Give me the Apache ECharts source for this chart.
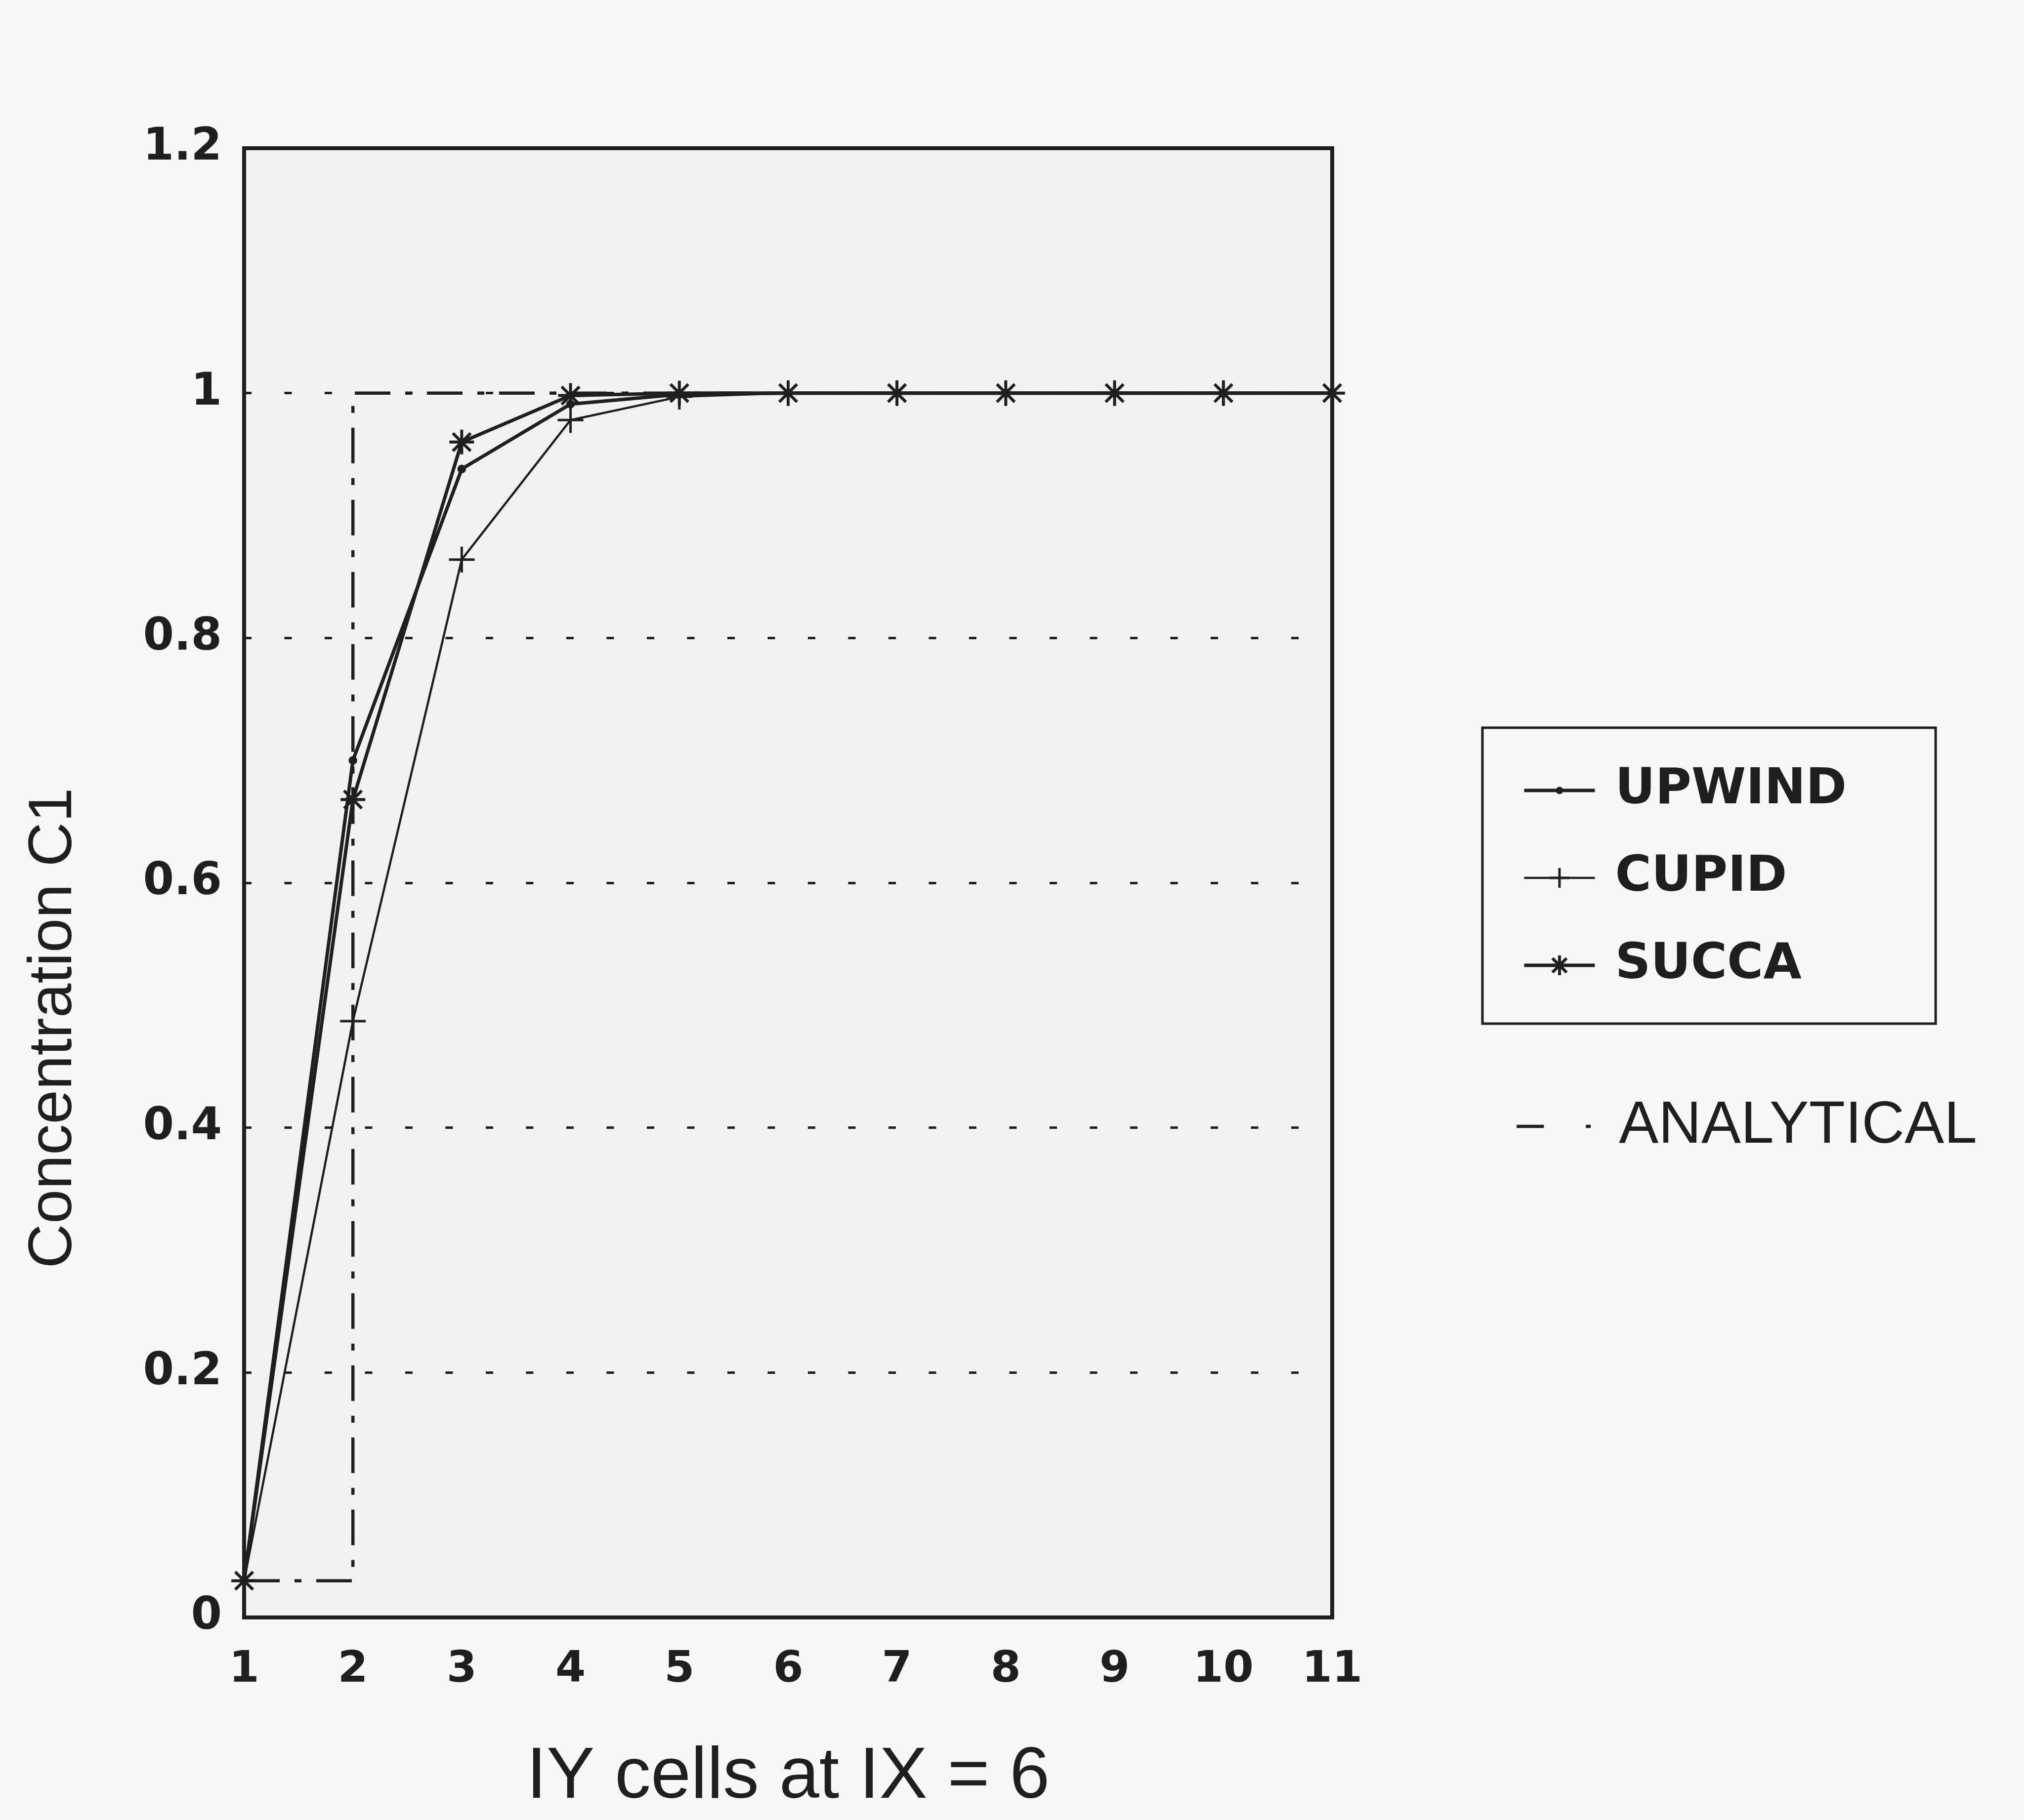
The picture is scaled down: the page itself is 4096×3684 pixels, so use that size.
<!DOCTYPE html>
<html>
<head>
<meta charset="utf-8">
<script src="https://cdn.jsdelivr.net/npm/echarts@6/dist/echarts.min.js"></script>
<style>
html,body{margin:0;padding:0;background:#f7f7f7;}
#chart{width:4096px;height:3684px;}
</style>
</head>
<body>
<div id="chart"></div>
<script>
// ---- data ----
const xCells = [1, 2, 3, 4, 5, 6, 7, 8, 9, 10, 11];
const upwind = [0.03, 0.70, 0.938, 0.991, 0.999, 1, 1, 1, 1, 1, 1];
const cupid  = [0.03, 0.487, 0.864, 0.978, 0.997, 1, 1, 1, 1, 1, 1];
const succa  = [0.03, 0.668, 0.960, 0.998, 1.0, 1, 1, 1, 1, 1, 1];
const analyticalX = [1, 2, 2, 11];
const analyticalY = [0.03, 0.03, 1, 1];
const yTicks = [0, 0.2, 0.4, 0.6, 0.8, 1, 1.2];
const yTickLabels = ['0', '0.2', '0.4', '0.6', '0.8', '1', '1.2'];
const xTickLabels = ['1', '2', '3', '4', '5', '6', '7', '8', '9', '10', '11'];
const seriesNames = ['UPWIND', 'CUPID', 'SUCCA', 'ANALYTICAL'];
const xTitle = 'IY cells at IX = 6';
const yTitle = 'Concentration C1';

// ---- styling ----
const INK = '#1f1f1f';
const STAR = 'path://M0 -10 L0 10 M-10 0 L10 0 M-7.2 -7.2 L7.2 7.2 M-7.2 7.2 L7.2 -7.2';
const PLUS = 'path://M0 -10 L0 10 M-10 0 L10 0';
const DOT = 'path://M-10 -10 M10 10 M0 -3 A3 3 0 1 1 0 3 A3 3 0 1 1 0 -3 Z';

function pairs(xs, ys) { return xs.map((x, i) => [x, ys[i]]); }
function yLabel(v) {
  let best = 0;
  yTicks.forEach((t, i) => { if (Math.abs(t - v) < Math.abs(yTicks[best] - v)) best = i; });
  return yTickLabels[best];
}
function xLabel(v) {
  const i = xCells.indexOf(Math.round(v));
  return i >= 0 ? xTickLabels[i] : '';
}

const chart = echarts.init(document.getElementById('chart'), null, {renderer: 'canvas'});
const option = {
  animation: false,
  backgroundColor: '#f7f7f7',
  grid: {
    left: 494, right: 1400, top: 300, bottom: 410,
    show: true, borderColor: INK, borderWidth: 8, backgroundColor: '#f1f1f1'
  },
  xAxis: {
    type: 'value', min: 1, max: 11, interval: 1,
    name: xTitle, nameLocation: 'middle', nameGap: 252,
    nameTextStyle: {fontFamily: 'Liberation Sans', fontSize: 146, color: INK},
    axisLine: {show: false}, axisTick: {show: false}, splitLine: {show: false},
    axisLabel: {
      formatter: xLabel, margin: 63,
      fontFamily: 'DejaVu Sans', fontWeight: 'bold', fontSize: 88, color: INK
    }
  },
  yAxis: {
    type: 'value', min: 0, max: 1.2, interval: 0.2,
    name: yTitle, nameLocation: 'middle', nameGap: 322, nameRotate: 90,
    nameTextStyle: {fontFamily: 'Liberation Sans', fontSize: 125, color: INK, padding: [0, 588, 0, 0]},
    axisLine: {show: false}, axisTick: {show: false},
    splitLine: {show: true, lineStyle: {color: INK, width: 5, type: [15, 66.5]}},
    axisLabel: {
      formatter: yLabel, margin: 45,
      fontFamily: 'DejaVu Sans', fontWeight: 'bold', fontSize: 90, color: INK
    }
  },
  legend: [
    {
      data: seriesNames.slice(0, 3), orient: 'vertical',
      left: 3000, top: 1473, padding: [77, 180, 68, 81],
      itemGap: 77, itemWidth: 143, itemHeight: 50,
      borderColor: INK, borderWidth: 5, selectedMode: false,
      lineStyle: {width: 'inherit'},
      itemStyle: {borderWidth: 'inherit'},
      textStyle: {fontFamily: 'DejaVu Sans', fontWeight: 'bold', fontSize: 100, color: INK,
                  lineHeight: 100, padding: [0, 0, 0, 36]}
    },
    {
      data: [{name: seriesNames[3], itemStyle: {opacity: 0}, lineStyle: {type: [55, 85, 10, 200]}}],
      left: 3066, top: 2220, padding: 0, itemWidth: 150, itemHeight: 50, selectedMode: false,
      lineStyle: {width: 'inherit'},
      textStyle: {fontFamily: 'Liberation Sans', fontSize: 120, color: INK,
                  lineHeight: 120, padding: [0, 0, 0, 52]}
    }
  ],
  series: [
    {
      name: seriesNames[0], type: 'line', data: pairs(xCells, upwind), z: 4,
      symbol: DOT, symbolSize: 48, showAllSymbol: true,
      lineStyle: {color: INK, width: 7}, itemStyle: {color: INK, borderColor: INK, borderWidth: 3},
      emphasis: {disabled: true}, silent: true
    },
    {
      name: seriesNames[1], type: 'line', data: pairs(xCells, cupid), z: 3,
      symbol: PLUS, symbolSize: 52, showAllSymbol: true,
      lineStyle: {color: INK, width: 4.5}, itemStyle: {color: INK, borderColor: INK, borderWidth: 5}, 
      emphasis: {disabled: true}, silent: true
    },
    {
      name: seriesNames[2], type: 'line', data: pairs(xCells, succa), z: 5,
      symbol: STAR, symbolSize: 50, showAllSymbol: true,
      lineStyle: {color: INK, width: 7}, itemStyle: {color: INK, borderColor: INK, borderWidth: 6},
      emphasis: {disabled: true}, silent: true
    },
    {
      name: seriesNames[3], type: 'line', data: pairs(analyticalX, analyticalY), z: 2,
      symbol: 'none',
      lineStyle: {color: INK, width: 6.5, type: [72, 30, 14, 30]},
      itemStyle: {color: INK},
      emphasis: {disabled: true}, silent: true
    }
  ]
};
chart.setOption(option);
</script>
</body>
</html>
